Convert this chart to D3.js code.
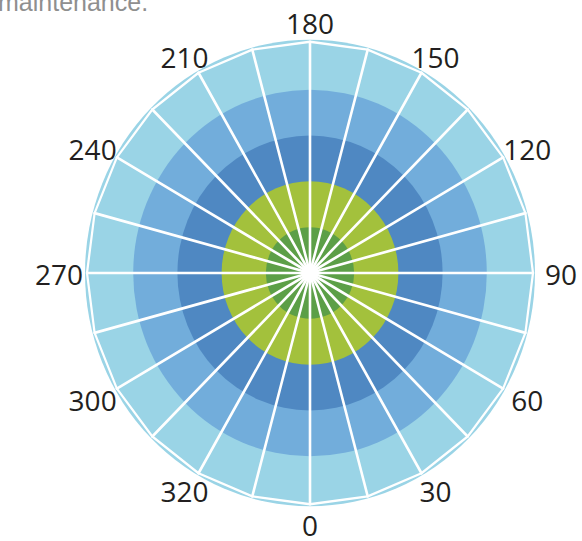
<!DOCTYPE html>
<html>
<head>
<meta charset="utf-8">
<script src="https://cdn.jsdelivr.net/npm/d3@7"></script>
<style>
  html, body { margin: 0; padding: 0; background: #ffffff; }
  svg { display: block; }
</style>
</head>
<body>
<svg id="chart" width="582" height="541"></svg>
<script>
// ---- data ----
const tickAngles = [0, 30, 60, 90, 120, 150, 180, 210, 240, 270, 300, 330];
const tickLabels = ["0", "30", "60", "90", "120", "150", "180", "210", "240", "270", "300", "320"];
const spokeStep = 15;                 // degrees between white spokes
const ringLevels = [1, 2, 3, 4, 5];   // concentric bands, inner -> outer
const ringColors = ["#5c9f47", "#a3c13c", "#4f88c2", "#72addb", "#9ad4e6"];
const captionText = "maintenance.";

// ---- layout ----
const cx = 310, cy = 273;
const yStretch = 1.037;
const svg = d3.select("#chart");

const r = d3.scaleLinear().domain([0, 5]).range([0, 221]);
const polyR = 223, outerR = 225;
const labelRx = 251, labelRy = 251, labelCy = 274;

// angle in degrees: 0 at bottom, 90 at right, 180 at top
const pt = (deg, rad) => [rad * Math.sin(deg * Math.PI / 180), rad * Math.cos(deg * Math.PI / 180)];

const g = svg.append("g").attr("transform", `translate(${cx},${cy}) scale(1,${yStretch})`);

// rings (draw outer first)
const rev = ringLevels.slice().reverse();
g.selectAll("circle.ring").data(rev).join("circle")
  .attr("class", "ring")
  .attr("r", d => d === 5 ? outerR : r(d))
  .attr("fill", d => ringColors[d - 1]);

// spokes
const spokes = d3.range(0, 360, spokeStep);
g.selectAll("line.spoke").data(spokes).join("line")
  .attr("class", "spoke")
  .attr("x1", 0).attr("y1", 0)
  .attr("x2", d => pt(d, polyR)[0])
  .attr("y2", d => pt(d, polyR)[1])
  .attr("stroke", "#ffffff")
  .attr("stroke-width", 2.6)
  .attr("stroke-linecap", "round");

// polygon outline joining spoke ends
g.append("path")
  .attr("d", d3.line().curve(d3.curveLinearClosed)(spokes.map(d => pt(d, polyR))))
  .attr("fill", "none")
  .attr("stroke", "#ffffff")
  .attr("stroke-width", 2.2)
  .attr("stroke-linejoin", "round");

// center glow
g.append("circle").attr("r", 5).attr("fill", "#ffffff");

// angle labels
svg.append("g").selectAll("text").data(tickAngles).join("text")
  .attr("x", d => cx + pt(d, labelRx)[0])
  .attr("y", d => labelCy + pt(d, labelRy)[1])
  .attr("text-anchor", "middle")
  .attr("dominant-baseline", "central")
  .attr("font-family", "'Open Sans', 'Noto Sans', sans-serif")
  .attr("font-size", 28)
  .attr("fill", "#231f20")
  .text((d, i) => tickLabels[i]);

// cut-off caption at top
svg.append("text")
  .attr("x", -2).attr("y", 11)
  .attr("font-family", "'Liberation Sans', Arial, sans-serif")
  .attr("font-size", 25)
  .attr("fill", "#8f8f8f")
  .text(captionText);
</script>
</body>
</html>
